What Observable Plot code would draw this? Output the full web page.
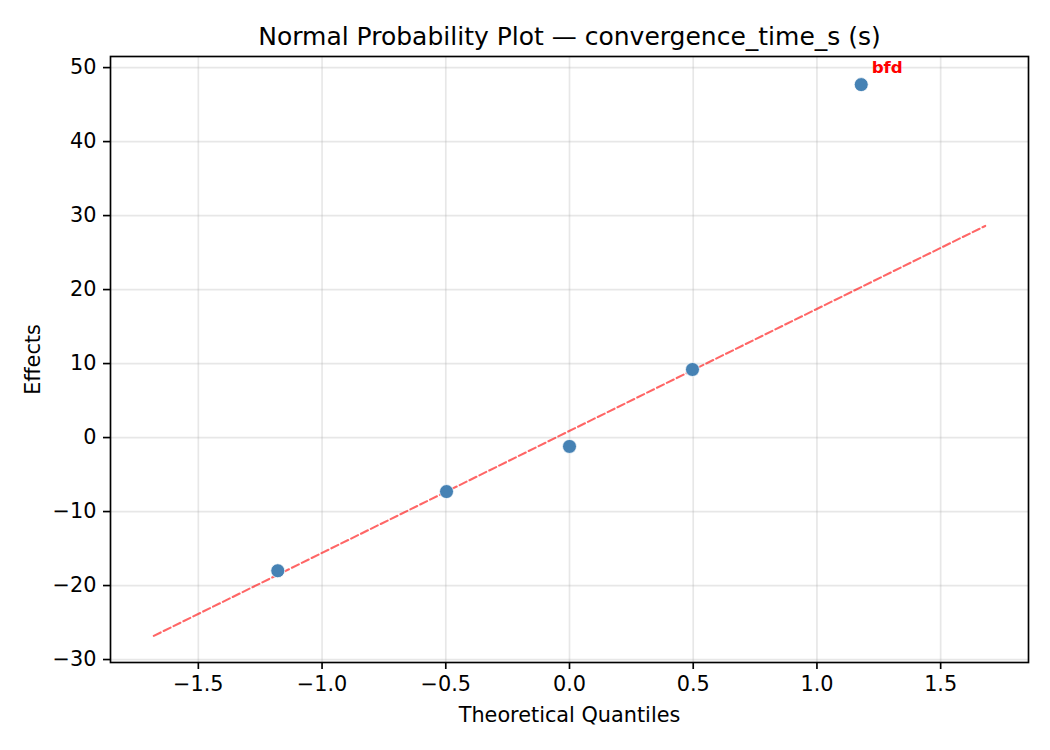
<!DOCTYPE html>
<html>
<head>
<meta charset="utf-8">
<script src="https://cdn.jsdelivr.net/npm/d3@7"></script>
<script src="https://cdn.jsdelivr.net/npm/@observablehq/plot@0.6"></script>
<style>
  html, body { margin: 0; padding: 0; background: #fff; }
  #chart svg { display: block; font-family: "DejaVu Sans", sans-serif; }
</style>
</head>
<body>
<div id="chart"></div>
<script>
const quantiles = [-1.179, -0.497, 0.0, 0.497, 1.179];
const effects = [-18.0, -7.3, -1.2, 9.2, 47.7];
const factorLabels = ["", "", "", "", "bfd"];
const fitX = [-1.68, 1.68];
const fitY = [-26.8, 28.6];
const xTicks = [-1.5, -1.0, -0.5, 0.0, 0.5, 1.0, 1.5];
const yTicks = [-30, -20, -10, 0, 10, 20, 30, 40, 50];
const titleText = "Normal Probability Plot — convergence_time_s (s)";
const xLabel = "Theoretical Quantiles";
const yLabel = "Effects";

const points = quantiles.map((q, i) => ({q, e: effects[i], label: factorLabels[i]}));
const fit = fitX.map((x, i) => ({x, y: fitY[i]}));

const chart = Plot.plot({
  width: 1050,
  height: 750,
  marginTop: 56,
  marginRight: 22,
  marginBottom: 88,
  marginLeft: 110,
  style: {fontFamily: "DejaVu Sans, sans-serif", background: "#fff"},
  x: {domain: [-1.855, 1.855]},
  y: {domain: [-30.4, 51.5]},
  marks: [
    Plot.gridX(xTicks, {stroke: "#b0b0b0", strokeOpacity: 0.3, strokeWidth: 1.67}),
    Plot.gridY(yTicks, {stroke: "#b0b0b0", strokeOpacity: 0.3, strokeWidth: 1.67}),
    Plot.line(fit, {x: "x", y: "y", stroke: "#ff0000", strokeOpacity: 0.6, strokeWidth: 2.08, strokeDasharray: "7.7,3.3"}),
    Plot.dot(points, {x: "q", y: "e", r: 7, fill: "#4682b4", stroke: "white", strokeWidth: 0.8}),
    Plot.text(points.filter(d => d.label), {x: "q", y: "e", text: "label", fill: "red", fontWeight: "bold", fontSize: 16.7, textAnchor: "start", lineAnchor: "middle", dx: 10.4, dy: -16.5}),
    Plot.frame({stroke: "black", strokeWidth: 1.67}),
    Plot.axisX(xTicks, {tickSize: 7, tickPadding: 7, fontSize: 20.8, strokeWidth: 1.67, tickFormat: d3.format(".1f"), label: null, color: "black"}),
    Plot.axisY(yTicks, {tickSize: 7, tickPadding: 7, fontSize: 20.8, strokeWidth: 1.67, tickFormat: d3.format("d"), label: null, color: "black"}),
    Plot.text([titleText], {frameAnchor: "top", dy: -20, fontSize: 25, textAnchor: "middle", lineAnchor: "middle", fill: "black"}),
    Plot.text([xLabel], {frameAnchor: "bottom", dy: 53, fontSize: 20.8, textAnchor: "middle", lineAnchor: "middle", fill: "black"}),
    Plot.text([yLabel], {frameAnchor: "left", dx: -77, rotate: -90, fontSize: 20.8, textAnchor: "middle", lineAnchor: "middle", fill: "black"})
  ]
});
document.getElementById("chart").appendChild(chart);
</script>
</body>
</html>
